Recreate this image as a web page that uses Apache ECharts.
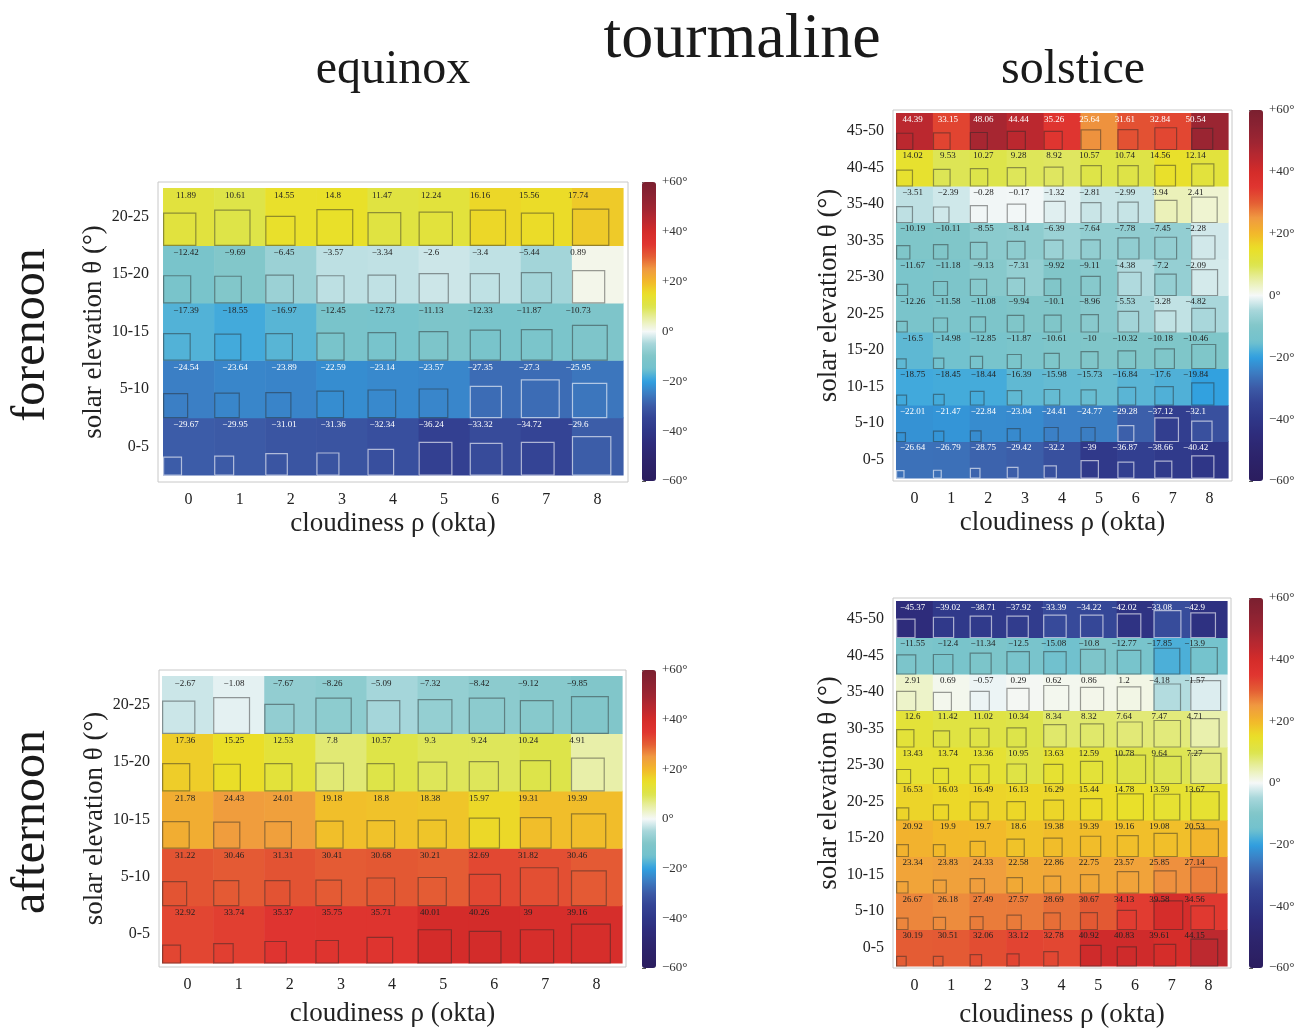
<!DOCTYPE html>
<html><head><meta charset="utf-8">
<script src="https://cdn.jsdelivr.net/npm/echarts@6/dist/echarts.min.js"></script>
<style>html,body{margin:0;padding:0;background:#fff}#c{width:1309px;height:1032px}</style>
</head><body><div id="c"></div><script>
// ---------- DATA (rows listed from bottom 0-5 to top) ----------
const cloudiness = [0, 1, 2, 3, 4, 5, 6, 7, 8];
const elevEquinox = ['0-5', '5-10', '10-15', '15-20', '20-25'];
const elevSolstice = ['0-5', '5-10', '10-15', '15-20', '20-25', '25-30', '30-35', '35-40', '40-45', '45-50'];
const colorbarTicks = [-60, -40, -20, 0, 20, 40, 60];

const equinoxForenoon = [
  [-29.67, -29.95, -31.01, -31.36, -32.34, -36.24, -33.32, -34.72, -29.6],
  [-24.54, -23.64, -23.89, -22.59, -23.14, -23.57, -27.35, -27.3, -25.95],
  [-17.39, -18.55, -16.97, -12.45, -12.73, -11.13, -12.33, -11.87, -10.73],
  [-12.42, -9.69, -6.45, -3.57, -3.34, -2.6, -3.4, -5.44, 0.89],
  [11.89, 10.61, 14.55, 14.8, 11.47, 12.24, 16.16, 15.56, 17.74]
];
const equinoxForenoonBox = [
  [.35, .37, .42, .43, .50, .64, .62, .64, .75],
  [.47, .48, .49, .52, .54, .56, .61, .74, .67],
  [.52, .51, .52, .53, .54, .56, .59, .60, .68],
  [.53, .52, .54, .53, .54, .57, .57, .59, .63],
  [.63, .69, .57, .70, .64, .65, .69, .63, .71]
];

const solsticeForenoon = [
  [-26.64, -26.79, -28.75, -29.42, -32.2, -39, -36.87, -38.66, -40.42],
  [-22.01, -21.47, -22.84, -23.04, -24.41, -24.77, -29.28, -37.12, -32.1],
  [-18.75, -18.45, -18.44, -16.39, -15.98, -15.73, -16.84, -17.6, -19.84],
  [-16.5, -14.98, -12.85, -11.87, -10.61, -10, -10.32, -10.18, -10.46],
  [-12.26, -11.58, -11.08, -9.94, -10.1, -8.96, -5.53, -3.28, -4.82],
  [-11.67, -11.18, -9.13, -7.31, -9.92, -9.11, -4.38, -7.2, -2.09],
  [-10.19, -10.11, -8.55, -8.14, -6.39, -7.64, -7.78, -7.45, -2.28],
  [-3.51, -2.39, -0.28, -0.17, -1.32, -2.81, -2.99, 3.94, 2.41],
  [14.02, 9.53, 10.27, 9.28, 8.92, 10.57, 10.74, 14.56, 12.14],
  [44.39, 33.15, 48.06, 44.44, 35.26, 25.64, 31.61, 32.84, 50.54]
];
const solsticeForenoonBox = [
  [.20, .21, .26, .29, .33, .47, .43, .46, .60],
  [.24, .28, .29, .35, .38, .38, .43, .64, .55],
  [.27, .29, .37, .39, .42, .41, .48, .50, .60],
  [.26, .28, .33, .38, .41, .46, .48, .53, .65],
  [.29, .38, .41, .45, .46, .47, .56, .57, .64],
  [.30, .38, .44, .47, .45, .52, .63, .58, .70],
  [.36, .39, .45, .48, .51, .52, .57, .59, .63],
  [.43, .42, .46, .50, .57, .54, .55, .60, .69],
  [.43, .45, .47, .50, .51, .55, .55, .56, .60],
  [.44, .45, .46, .49, .49, .53, .54, .59, .57]
];

const equinoxAfternoon = [
  [32.92, 33.74, 35.37, 35.75, 35.71, 40.01, 40.26, 39, 39.16],
  [31.22, 30.46, 31.31, 30.41, 30.68, 30.21, 32.69, 31.82, 30.46],
  [21.78, 24.43, 24.01, 19.18, 18.8, 18.38, 15.97, 19.31, 19.39],
  [17.36, 15.25, 12.53, 7.8, 10.57, 9.3, 9.24, 10.24, 4.91],
  [-2.67, -1.08, -7.67, -8.26, -5.09, -7.32, -8.42, -9.12, -9.85]
];
const equinoxAfternoonBox = [
  [.35, .38, .42, .44, .50, .65, .62, .65, .76],
  [.47, .49, .49, .50, .54, .55, .61, .74, .68],
  [.52, .51, .52, .53, .54, .55, .59, .60, .67],
  [.53, .52, .53, .54, .53, .56, .57, .59, .64],
  [.63, .70, .57, .69, .64, .66, .69, .64, .72]
];

const solsticeAfternoon = [
  [30.19, 30.51, 32.06, 33.12, 32.78, 40.92, 40.83, 39.61, 44.15],
  [26.67, 26.18, 27.49, 27.57, 28.69, 30.67, 34.13, 39.58, 34.56],
  [23.34, 23.83, 24.33, 22.58, 22.86, 22.75, 23.57, 25.85, 27.14],
  [20.92, 19.9, 19.7, 18.6, 19.38, 19.39, 19.16, 19.08, 20.53],
  [16.53, 16.03, 16.49, 16.13, 16.29, 15.44, 14.78, 13.59, 13.67],
  [13.43, 13.74, 13.36, 10.95, 13.63, 12.59, 10.78, 9.64, 7.27],
  [12.6, 11.42, 11.02, 10.34, 8.34, 8.32, 7.64, 7.47, 4.71],
  [2.91, 0.69, -0.57, 0.29, 0.62, 0.86, 1.2, -4.18, -1.57],
  [-11.55, -12.4, -11.34, -12.5, -15.08, -10.8, -12.77, -17.85, -13.9],
  [-45.37, -39.02, -38.71, -37.92, -33.39, -34.22, -42.02, -33.08, -42.9]
];
const solsticeAfternoonBox = [
  [.26, .26, .31, .33, .39, .56, .52, .59, .73],
  [.31, .33, .35, .39, .45, .46, .52, .78, .64],
  [.31, .35, .39, .42, .46, .50, .58, .60, .70],
  [.32, .32, .41, .47, .50, .55, .57, .63, .75],
  [.33, .41, .49, .50, .54, .58, .71, .70, .77],
  [.38, .41, .51, .53, .52, .60, .77, .74, .82],
  [.47, .44, .51, .52, .61, .63, .68, .72, .77],
  [.52, .49, .52, .60, .68, .63, .64, .72, .81],
  [.52, .53, .57, .61, .61, .67, .64, .70, .72],
  [.50, .55, .58, .58, .61, .61, .64, .73, .67]
];

// ---------- STYLE / LAYOUT ----------
const FONT = "'Liberation Serif', 'Times New Roman', serif";
// colour ramp, evenly spaced every 5 degrees from -60 to +60
const ramp = ['#2b1d5e', '#2c2166', '#2d266f', '#2e2c7c', '#2f3788', '#344394', '#3c5aa6', '#3c7cc2',
  '#30a0e0', '#72c2ce', '#80c6c9', '#a6d6da', '#f5f8f8', '#e8efa8', '#dce44c', '#eae028', '#f2b82a',
  '#f09a40', '#e45e34', '#e03530', '#d42c2a', '#b82830', '#9c2532', '#8a2232', '#7a2030'];

const panels = [
  { vals: equinoxForenoon, box: equinoxForenoonBox, rows: elevEquinox,
    grid: { left: 158, top: 182, width: 470, height: 300 }, xr: [-0.598, 8.598], yr: [-0.622, 4.605],
    cbar: { left: 642, top: 182, width: 14, height: 299 }, xGap: 28, yGap: 50 },
  { vals: solsticeForenoon, box: solsticeForenoonBox, rows: elevSolstice,
    grid: { left: 893, top: 110, width: 339, height: 371 }, xr: [-0.581, 8.608], yr: [-0.582, 9.582],
    cbar: { left: 1249, top: 110, width: 14, height: 371 }, xGap: 28, yGap: 50 },
  { vals: equinoxAfternoon, box: equinoxAfternoonBox, rows: elevEquinox,
    grid: { left: 159, top: 670, width: 467, height: 297 }, xr: [-0.559, 8.578], yr: [-0.57, 4.605],
    cbar: { left: 642, top: 670, width: 14, height: 298 }, xGap: 33, yGap: 50 },
  { vals: solsticeAfternoon, box: solsticeAfternoonBox, rows: elevSolstice,
    grid: { left: 893, top: 598, width: 338, height: 370 }, xr: [-0.582, 8.609], yr: [-0.555, 9.582],
    cbar: { left: 1249, top: 598, width: 14, height: 370 }, xGap: 33, yGap: 50 }
];

function fmtSigned(v) { return v < 0 ? '\u2212' + Math.abs(v) : String(v); }
function cbarLabel(v) { return v > 0 ? '+' + v + '°' : (v < 0 ? '\u2212' + (-v) + '°' : '0°'); }

function makeRender(vals) {
  const rowMean = vals.map(r => r.reduce((a, b) => a + b, 0) / r.length);
  return function (params, api) {
    const c = api.value(0), r = api.value(1), v = api.value(2), s = api.value(3);
    const tl = api.coord([c - 0.5, r + 0.5]);
    const br = api.coord([c + 0.5, r - 0.5]);
    const w = br[0] - tl[0], h = br[1] - tl[1];
    const side = s * w;
    const col = api.visual('color');
    const m = rowMean[r];
    const light = m < -20 || m > 37.5;
    const lab = api.coord([c * 0.959 - 0.05, r + 0.5]);
    return { type: 'group', children: [
      { type: 'rect', shape: { x: tl[0], y: tl[1], width: w + 0.6, height: h + 0.6 }, style: { fill: col } },
      { type: 'rect', shape: { x: tl[0] + 0.6, y: br[1] - side, width: side, height: side },
        style: { fill: 'none', stroke: v < -25 ? 'rgba(255,255,255,0.6)' : 'rgba(40,40,40,0.45)', lineWidth: 1.2 } },
      { type: 'text', x: lab[0], y: tl[1] + h * 0.05,
        style: { text: fmtSigned(v), fill: light ? '#ffffff' : '#222222', font: '9px ' + FONT, align: 'center', verticalAlign: 'top' } }
    ] };
  };
}

const grids = [], xAxes = [], yAxes = [], series = [], visualMaps = [];
const tickStyle = { show: true, length: 4, lineStyle: { color: '#b5b5b5', width: 1 } };

panels.forEach((p, i) => {
  grids.push(Object.assign({ show: true, borderColor: '#c8c8c8', borderWidth: 1, backgroundColor: 'transparent' }, p.grid));
  const rowIdx = p.rows.map((_, k) => k);
  xAxes.push({ gridIndex: i, type: 'value', position: 'bottom', min: p.xr[0], max: p.xr[1],
    axisLine: { show: false }, splitLine: { show: false },
    axisTick: Object.assign({ customValues: cloudiness }, tickStyle),
    axisLabel: { customValues: cloudiness, margin: 10, fontFamily: FONT, fontSize: 16, color: '#222' },
    name: 'cloudiness \u03c1 (okta)', nameLocation: 'middle', nameGap: p.xGap,
    nameTextStyle: { fontFamily: FONT, fontSize: 27, color: '#222' } });
  xAxes.push({ gridIndex: i, type: 'value', position: 'top', min: p.xr[0], max: p.xr[1],
    axisLine: { show: false }, splitLine: { show: false },
    axisTick: Object.assign({ customValues: cloudiness }, tickStyle),
    axisLabel: { show: false } });
  yAxes.push({ gridIndex: i, type: 'value', position: 'left', min: p.yr[0], max: p.yr[1],
    axisLine: { show: false }, splitLine: { show: false },
    axisTick: Object.assign({ customValues: rowIdx }, tickStyle),
    axisLabel: { customValues: rowIdx, margin: 9, fontFamily: FONT, fontSize: 16, color: '#222',
      formatter: v => p.rows[Math.round(v)] },
    name: 'solar elevation \u03b8 (°)', nameLocation: 'middle', nameGap: p.yGap, nameRotate: 90,
    nameTextStyle: { fontFamily: FONT, fontSize: 27, color: '#222' } });
  yAxes.push({ gridIndex: i, type: 'value', position: 'right', min: p.yr[0], max: p.yr[1],
    axisLine: { show: false }, splitLine: { show: false },
    axisTick: Object.assign({ customValues: rowIdx }, tickStyle),
    axisLabel: { show: false } });

  const data = [];
  p.vals.forEach((row, r) => row.forEach((v, c) => data.push([cloudiness[c], r, v, p.box[r][c]])));
  series.push({ type: 'custom', coordinateSystem: 'cartesian2d', xAxisIndex: 2 * i, yAxisIndex: 2 * i,
    renderItem: makeRender(p.vals), encode: { x: 0, y: 1 }, data: data, silent: true, animation: false });

  visualMaps.push({ type: 'continuous', seriesIndex: i, dimension: 2, min: -60, max: 60,
    inRange: { color: ramp }, calculable: false, orient: 'vertical', padding: 0,
    left: p.cbar.left, top: p.cbar.top, itemWidth: p.cbar.width, itemHeight: p.cbar.height,
    hoverLink: false, text: null });
});

// colour-bar label axes
panels.forEach((p, i) => {
  const gi = 4 + i;
  grids.push(Object.assign({ show: false }, p.cbar));
  xAxes.push({ gridIndex: gi, type: 'value', show: false, min: 0, max: 1 });
  yAxes.push({ gridIndex: gi, type: 'value', position: 'right', min: colorbarTicks[0],
    max: colorbarTicks[colorbarTicks.length - 1], interval: 20,
    axisLine: { show: false }, splitLine: { show: false },
    axisTick: { show: true, length: 4, lineStyle: { color: '#555' } },
    axisLabel: { margin: 6, fontFamily: FONT, fontSize: 13, color: '#333', formatter: cbarLabel } });
});

const titleStyle = (t, size) => ({ text: t, font: size + 'px ' + FONT, fill: '#1a1a1a', align: 'center', verticalAlign: 'middle' });
const graphics = [
  { type: 'text', x: 742, y: 40, style: titleStyle('tourmaline', 64) },
  { type: 'text', x: 393, y: 70, style: titleStyle('equinox', 48) },
  { type: 'text', x: 1073, y: 70, style: titleStyle('solstice', 48) },
  { type: 'text', x: 31, y: 335, rotation: Math.PI / 2, style: titleStyle('forenoon', 48) },
  { type: 'text', x: 31, y: 822, rotation: Math.PI / 2, style: titleStyle('afternoon', 48) }
];

const chart = echarts.init(document.getElementById('c'), null, { renderer: 'canvas' });
chart.setOption({
  backgroundColor: '#ffffff',
  animation: false,
  grid: grids, xAxis: xAxes, yAxis: yAxes,
  visualMap: visualMaps,
  series: series,
  graphic: graphics
});
</script></body></html>
